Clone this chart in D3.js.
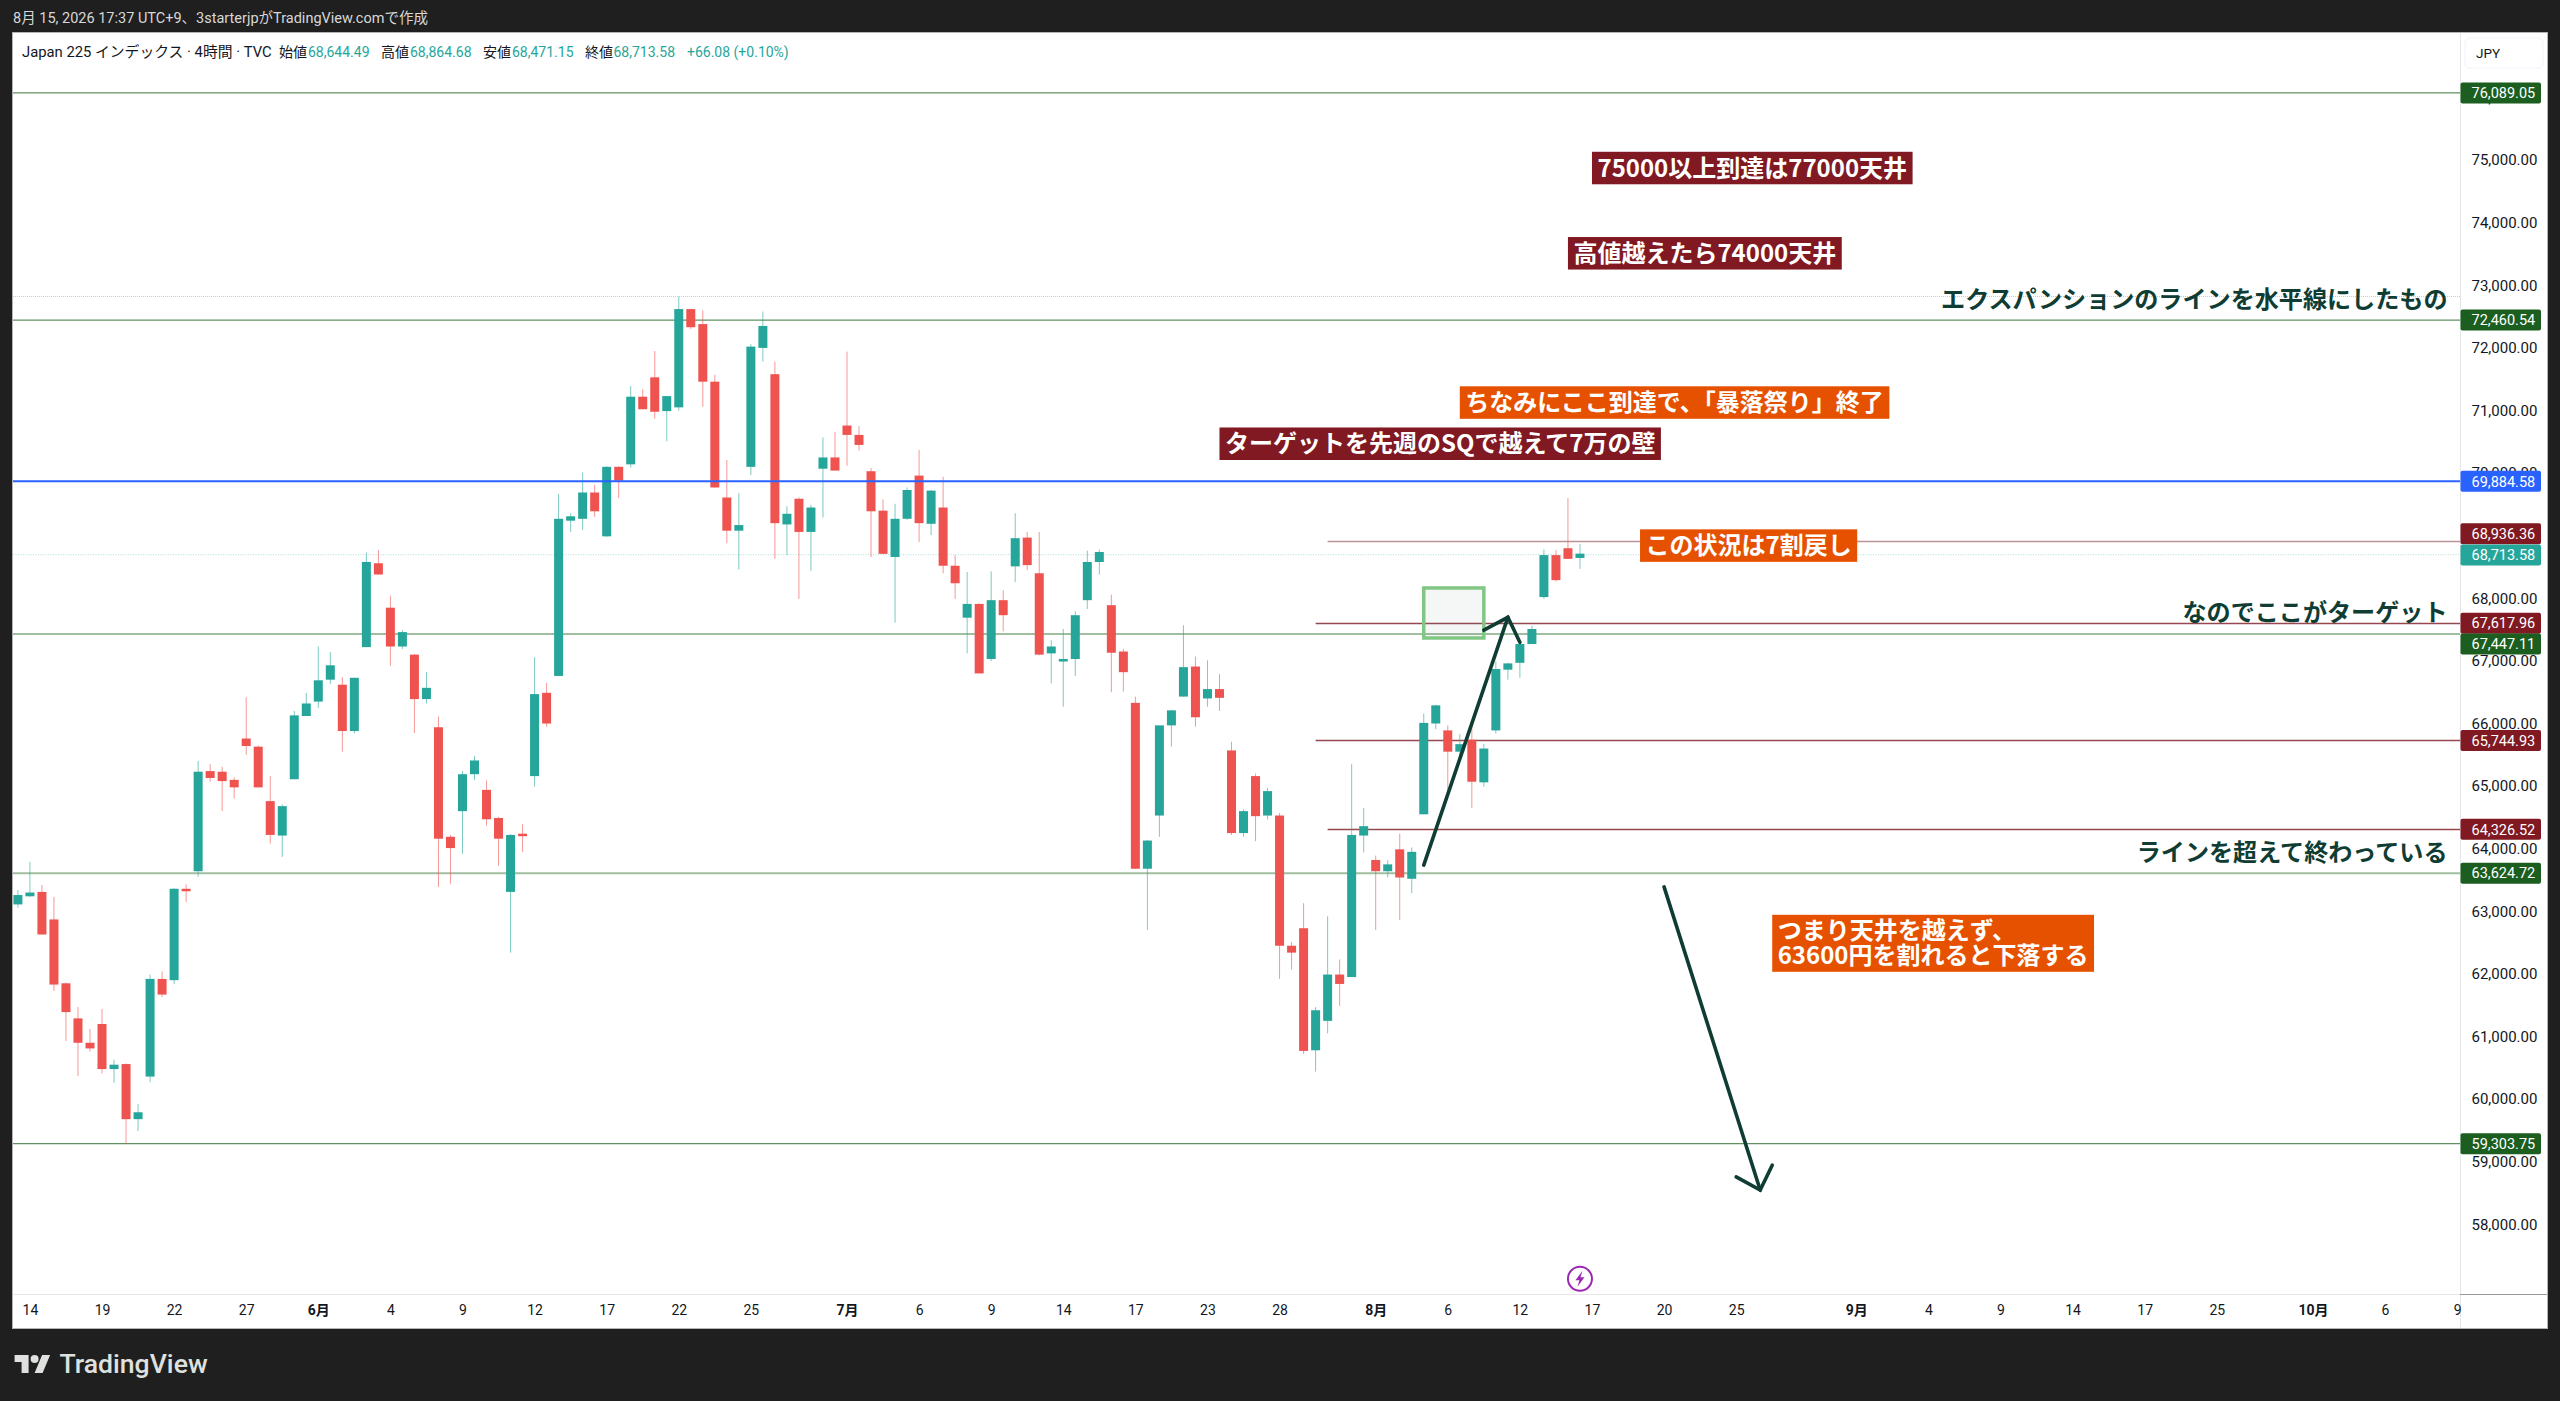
<!DOCTYPE html>
<html lang="ja">
<head>
<meta charset="utf-8">
<title>Japan 225</title>
<script src="https://cdn.jsdelivr.net/npm/d3@7/dist/d3.min.js"></script>
<style>
html,body{margin:0;padding:0;background:#1f1f1f;overflow:hidden}
svg{display:block}
text{font-family:Roboto,"Noto Sans CJK JP",sans-serif}
.jp{font-family:"Noto Sans CJK JP",sans-serif}
</style>
</head>
<body>
<svg id="c" width="2560" height="1401"></svg>
<script>
// ---- candle data (4h bars) ----
const opens=[63110,63240,63310,62870,61850,61290,60900,61200,60480,60560,
59680,60360,61920,61900,63360,63640,65240,65230,65100,65760,
65630,64760,64210,65110,66120,66350,66700,66620,65880,67220,
68560,67850,67230,67100,66390,65940,64190,64600,65190,64940,
64490,63310,64240,65160,66490,66760,69240,69270,69690,68990,
70100,70140,71220,71530,70990,71050,72620,72380,71460,69610,
69080,70100,72000,71580,69180,69590,69060,70070,70250,70760,
70610,70030,69400,68660,69270,69960,69190,69450,68520,67690,
67910,67030,67970,68510,68970,68400,67120,66990,67030,67970,
68580,67890,67150,66330,63680,64530,65970,66430,66910,66400,
66550,65570,64250,65160,64530,64530,62450,62730,60780,61250,
61990,61950,64210,63820,63640,63990,63520,64550,66000,65890,
65550,65740,65060,65890,66860,66970,67270,68020,68690,68800,68644.49];
const highs=[63340,63790,63420,63230,61860,61470,61120,61440,60630,60570,
59920,61990,62040,63370,63430,65400,65350,65310,65140,66420,
65650,65160,64710,66200,66490,67230,67140,66740,66730,68730,
68770,68040,67490,67110,66820,66110,64220,65240,65480,65090,
64510,64230,64390,67060,66650,69670,69360,70010,69810,70110,
70110,71390,71340,71950,71230,72820,72620,72600,71570,70210,
69680,72060,72580,71780,69470,69610,69490,70570,70660,71940,
70750,70080,69580,69510,69770,70370,69730,69940,68690,68420,
67920,68430,68130,69360,69060,69060,67330,67510,67790,68760,
68780,68060,67190,66430,64140,65970,66220,67570,67070,67010,
66790,65710,64630,65200,64970,64570,62510,63130,61470,62920,
62230,65350,64650,63890,63820,64240,64020,66160,66300,65970,
65830,65980,65670,66990,66970,67270,67560,68780,68770,69600,68864.68];
const lows=[63060,63230,62630,61730,60930,60370,60760,60410,60260,59290,
59490,60270,61630,61840,63150,63550,65070,64600,64800,65500,
64980,64080,63870,65110,66120,66250,66630,65550,65840,67220,
68380,66920,67190,65850,66320,63390,63440,63920,65100,64370,
63730,62340,63950,64990,65950,66760,69060,69090,69300,68980,
69600,70090,71020,70870,70510,71000,72300,71060,69770,68880,
68460,69970,71780,68630,68690,67990,68440,69290,70040,70120,
70360,68660,68710,67610,69250,68900,69010,68400,67990,67120,
66800,67000,67470,68260,68450,67090,66640,66270,66760,67830,
68380,66500,66510,63680,62700,64190,65630,66430,65950,66270,
66200,64220,64190,64120,64470,61920,62070,60720,60440,61050,
61490,61950,63940,62700,63540,62860,63290,64550,65910,64940,
65450,64650,64990,65840,66700,66730,67270,67990,68270,68630,68471.15];
const closes=[63260,63300,62630,61830,61390,60900,60810,60480,60550,59680,
59790,61920,61670,63360,63320,65230,65130,65080,64980,65640,
64980,64220,64680,66130,66320,66690,66930,65880,66730,68580,
68380,67230,67460,66390,66570,64160,64010,65190,65410,64470,
64160,64220,64200,66470,66000,69270,69310,69690,69390,70100,
69880,71220,71020,70980,71230,72620,72330,71460,69770,69080,
69170,72020,72350,69200,69350,69060,69450,70250,70040,70610,
70450,69390,68710,69270,69730,69200,69720,68520,68240,67910,
66800,67970,67730,68960,68530,67100,67230,67030,67730,68580,
68740,67130,66820,63680,64130,65970,66210,66900,66100,66550,
66410,64250,64600,64520,64920,62450,62340,60770,61420,61990,
61840,64220,64360,63640,63750,63540,63950,66010,66290,65550,
65670,65070,65600,66870,66960,67270,67510,68690,68290,68630,68713.58];

// ---- axes ----
const priceTicks=[58000,59000,60000,61000,62000,63000,64000,65000,66000,67000,68000,69000,70000,71000,72000,73000,74000,75000,76000];
const timeTickBars=[1,7,13,19,25,31,37,43,49,55,61,69,75,81,87,93,99,105,113,119,125,131,137,143,153,159,165,171,177,183,191,197,203];
const timeTickLabels=["14","19","22","27","6月","4","9","12","17","22","25","7月","6","9","14","17","23","28","8月","6","12","17","20","25","9月","4","9","14","17","25","10月","6","9"];

// ---- horizontal levels ----
const greenLevels=[76089.05,72460.54,67447.11,63624.72,59303.75];
const blueLevel=69884.58;
const redLevels=[68936.36,67617.96,65744.93,64326.52];
const redLevelStartBars=[109,108,108,109];
const lastPrice=68713.58;

// ---- annotations ----
const boxTexts=[["75000以上到達は77000天井"],["高値越えたら74000天井"],["ちなみにここ到達で、「暴落祭り」終了"],["ターゲットを先週のSQで越えて7万の壁"],["この状況は7割戻し"],["つまり天井を越えず、","63600円を割れると下落する"]];
const boxBars=[131,129,120,100,135,146];
const boxPrices=[74873,73511,71127,70469,68842,62489];
const boxKinds=["dark","dark","orange","dark","orange","orange"];
const noteTexts=["エクスパンションのラインを水平線にしたもの","なのでここがターゲット","ラインを超えて終わっている"];
const noteBar=202.2;
const notePrices=[72771,67775,63947];
const upArrowBars=[117,124],upArrowPrices=[63739,67696];
const upBarbBars=[122,124,125],upBarbPrices=[67493,67696,67297];
const downArrowBars=[137,145],downArrowPrices=[63390,58547];
const downBarbBars=[143,145,146],downBarbPrices=[58759,58547,58944];
const zoneBars=[117,122],zonePrices=[68165,67366];
const eventBar=130,eventPrice=57131;

// ---- legend ----
const headerText="8月 15, 2026 17:37 UTC+9、3starterjpがTradingView.comで作成";
const symbolText="Japan 225 インデックス · 4時間 · TVC";
const legendNames=["始値","高値","安値","終値"];
const legendValues=["68,644.49","68,864.68","68,471.15","68,713.58"];
const legendChange="+66.08 (+0.10%)";

// ---- layout ----
const L=13,R=2460,RA=2547,T=33,B=1294,BB=1328,LV=1;
const UP="#26a69a",DN="#ef5350",MAROON="#801922",ORANGE="#e65100",INK="#0f3d33",GREEN="#1b5e20",BLUE="#2962ff";
const svg=d3.select("#c");
const x=d3.scaleLinear().domain([-0.408,203.24]).range([L,R]);
const y=d3.scaleLinear().domain([56887,77030]).range([B,T]);

svg.append("rect").attr("width",2560).attr("height",1401).attr("fill","#1f1f1f");
svg.append("rect").attr("x",L-0.5).attr("y",T-0.5).attr("width",RA-L+1).attr("height",BB-T+1).attr("fill","#fff").attr("stroke","#b4b4b4");
svg.append("defs").append("clipPath").attr("id","plot").append("rect").attr("x",L).attr("y",T).attr("width",R-L).attr("height",B-T);
const plot=svg.append("g").attr("clip-path","url(#plot)");

// dotted price-range lines
plot.append("line").attr("x1",L).attr("x2",R).attr("y1",y(d3.max(highs))).attr("y2",y(d3.max(highs))).attr("stroke","#c8c8c8").attr("stroke-dasharray","1 1");
plot.append("line").attr("x1",L).attr("x2",R).attr("y1",y(lastPrice)+LV).attr("y2",y(lastPrice)+LV).attr("stroke",UP).attr("stroke-opacity",.35).attr("stroke-dasharray","1 1.5");

// green levels
const greenW=[1.2,1.3,2,2,1.2];
const greenC=["#5f9161","#5f9161","#a0bea0","#a0bea0","#5f9161"];
plot.selectAll(".gl").data(greenLevels).join("line").attr("class","gl")
 .attr("x1",L).attr("x2",R).attr("y1",d=>y(d)+LV).attr("y2",d=>y(d)+LV)
 .attr("stroke",(d,i)=>greenC[i]).attr("stroke-width",(d,i)=>greenW[i]);
// red levels
const redW=[1.6,1.3,1.3,1.3];
const redC=["#bd9296","#96484f","#96484f","#96484f"];
plot.selectAll(".rl").data(redLevels).join("line").attr("class","rl")
 .attr("x1",(d,i)=>x(redLevelStartBars[i])).attr("x2",R)
 .attr("y1",d=>Math.round(y(d)+LV)+.5).attr("y2",d=>Math.round(y(d)+LV)+.5)
 .attr("stroke",(d,i)=>redC[i]).attr("stroke-width",(d,i)=>redW[i]);

// candles
const idx=d3.range(opens.length);
const col=i=>closes[i]>=opens[i]?UP:DN;
plot.selectAll(".wick").data(idx).join("line").attr("class","wick")
 .attr("x1",i=>x(i)).attr("x2",i=>x(i)).attr("y1",i=>y(highs[i])).attr("y2",i=>y(lows[i]))
 .attr("stroke",col).attr("stroke-opacity",.6).attr("stroke-width",1);
plot.selectAll(".body").data(idx).join("rect").attr("class","body")
 .attr("x",i=>x(i)-4.5).attr("width",9)
 .attr("y",i=>y(Math.max(opens[i],closes[i])))
 .attr("height",i=>Math.max(1.5,Math.abs(y(opens[i])-y(closes[i]))))
 .attr("fill",col);

// blue level above candles
plot.append("line").attr("x1",L).attr("x2",R).attr("y1",y(blueLevel)+LV).attr("y2",y(blueLevel)+LV).attr("stroke",BLUE).attr("stroke-width",2);

// zone rectangle
plot.append("rect").attr("x",x(zoneBars[0])).attr("width",x(zoneBars[1])-x(zoneBars[0]))
 .attr("y",y(zonePrices[0])).attr("height",y(zonePrices[1])-y(zonePrices[0]))
 .attr("fill","#787b86").attr("fill-opacity",.07).attr("stroke","#81c784").attr("stroke-width",3.5);

// arrows
const ln=d3.line().x(d=>x(d[0])).y(d=>y(d[1]));
function arrow(sb,sp,bb,bp,w){
 plot.append("path").attr("d",ln(d3.zip(sb,sp))).attr("fill","none").attr("stroke",INK).attr("stroke-width",w).attr("stroke-linecap","round");
 plot.append("path").attr("d",ln(d3.zip(bb,bp))).attr("fill","none").attr("stroke",INK).attr("stroke-width",w).attr("stroke-linecap","round").attr("stroke-linejoin","miter");
}
arrow(upArrowBars,upArrowPrices,upBarbBars,upBarbPrices,3.6);
arrow(downArrowBars,downArrowPrices,downBarbBars,downBarbPrices,3.6);

// event icon
const ev=plot.append("g").attr("transform",`translate(${x(eventBar)},${y(eventPrice)})`);
ev.append("circle").attr("r",12).attr("fill","#fff").attr("stroke","#9c27b0").attr("stroke-width",2);
ev.append("path").attr("d","M2.5,-8 L-4.5,1.5 L-0.5,1.5 L-2.5,8 L4.5,-1.5 L0.5,-1.5 Z").attr("fill","#9c27b0");

// notes
svg.selectAll(".note").data(noteTexts).join("text").attr("class","note jp")
 .attr("x",x(noteBar)).attr("y",(d,i)=>y(notePrices[i])).attr("dy","0.36em").attr("text-anchor","end")
 .attr("font-size",24.1).attr("font-weight",700).attr("fill",INK).text(d=>d);

// boxed annotations
boxTexts.forEach((lines,i)=>{
 const g=svg.append("g").attr("transform",`translate(${x(boxBars[i])},${y(boxPrices[i])})`);
 const r=g.append("rect").attr("fill",boxKinds[i]==="dark"?MAROON:ORANGE);
 const lh=25,pad=5.5;
 const ts=lines.map((t,k)=>g.append("text").attr("class","jp").attr("x",pad).attr("y",(k-(lines.length-1)/2)*lh).attr("dy","0.36em")
   .attr("font-size",24).attr("font-weight",700).attr("fill","#fff").text(t));
 const w=d3.max(ts,t=>t.node().getComputedTextLength())+2*pad;
 const h=lines.length*lh+(lines.length>1?7:7.5);
 r.attr("x",0).attr("y",-h/2).attr("width",w).attr("height",h);
});

// axes
svg.append("line").attr("x1",R+.5).attr("x2",R+.5).attr("y1",T).attr("y2",BB).attr("stroke","#e4e6eb");
svg.append("line").attr("x1",L).attr("x2",R).attr("y1",B+.5).attr("y2",B+.5).attr("stroke","#e8e8e8");
svg.append("line").attr("x1",R).attr("x2",RA).attr("y1",B+.5).attr("y2",B+.5).attr("stroke","#999");

const yAxis=d3.axisRight(y).tickValues(priceTicks).tickFormat(d3.format(",.2f")).tickSize(0).tickPadding(0);
const ya=svg.append("g").attr("transform",`translate(${R+11.5},0)`).call(yAxis);
ya.select(".domain").remove();
ya.selectAll("text").attr("font-size",15).attr("fill","#131722").attr("font-family","Roboto");

const xAxis=d3.axisBottom(x).tickValues(timeTickBars).tickFormat((d,i)=>timeTickLabels[i]).tickSize(0).tickPadding(11);
const xa=svg.append("g").attr("transform",`translate(0,${B})`).call(xAxis);
xa.select(".domain").remove();
xa.selectAll("text").attr("font-size",14).attr("fill","#131722").attr("font-family",'Roboto,"Noto Sans CJK JP"')
 .attr("font-weight",d=>timeTickLabels[timeTickBars.indexOf(d)].includes("月")?700:400);

// price pills
const pillPrices=[76089.05,72460.54,69884.58,68936.36,68713.58,67617.96,67447.11,65744.93,64326.52,63624.72,59303.75];
const pillColors=[GREEN,GREEN,BLUE,MAROON,UP,MAROON,GREEN,MAROON,MAROON,GREEN,GREEN];
const pillShift=[1,1,1,-6,1.4,1,11,1,1,1,1];
const fmt=d3.format(",.2f");
const pills=svg.selectAll(".pill").data(pillPrices).join("g").attr("class","pill")
 .attr("transform",(d,i)=>`translate(${R+.5},${y(d)+pillShift[i]})`);
pills.append("rect").attr("x",0).attr("y",-10.5).attr("width",80.5).attr("height",21).attr("rx",2)
 .attr("fill",(d,i)=>pillColors[i]);
pills.append("text").attr("x",11).attr("dy","0.36em").attr("font-size",14.5).attr("fill","#fff").text(d=>fmt(d));

// JPY button
svg.append("rect").attr("x",2465).attr("y",38).attr("width",78).attr("height",30).attr("rx",5).attr("fill","#fff").attr("stroke","#f0f3fa");
svg.append("text").attr("x",2476).attr("y",53).attr("dy","0.36em").attr("font-size",13.5).attr("fill","#131722").text("JPY");

// header & legend
svg.append("text").attr("x",13).attr("y",18).attr("dy","0.36em").attr("font-size",14.5).attr("fill","#d8d8d8").text(headerText);
const lg=svg.append("g").attr("font-size",14);
lg.append("text").attr("x",22).attr("y",52).attr("dy","0.36em").attr("font-size",14.8).attr("fill","#131722").text(symbolText);
const nameX=[279,381,483,585],valX=[308,410,512,613.5];
legendNames.forEach((n,i)=>{
 lg.append("text").attr("x",nameX[i]).attr("y",52).attr("dy","0.36em").attr("fill","#131722").text(n);
 lg.append("text").attr("x",valX[i]).attr("y",52).attr("dy","0.36em").attr("fill",UP).text(legendValues[i]);
});
lg.append("text").attr("x",687).attr("y",52).attr("dy","0.36em").attr("fill",UP).text(legendChange);

// TradingView logo
const logo=svg.append("g").attr("transform","translate(14.6,1351)").attr("fill","#dfe1df");
logo.append("path").attr("d","M14 22H7V11H0V4h14v18zM28 22h-8l7.5-18h8L28 22z");
logo.append("circle").attr("cx",20).attr("cy",8).attr("r",4);
svg.append("text").attr("x",59.5).attr("y",1373).attr("font-size",26.6).attr("font-weight",500).attr("fill","#dfe1df").attr("font-family","Inter,Roboto").text("TradingView");
</script>
</body>
</html>
